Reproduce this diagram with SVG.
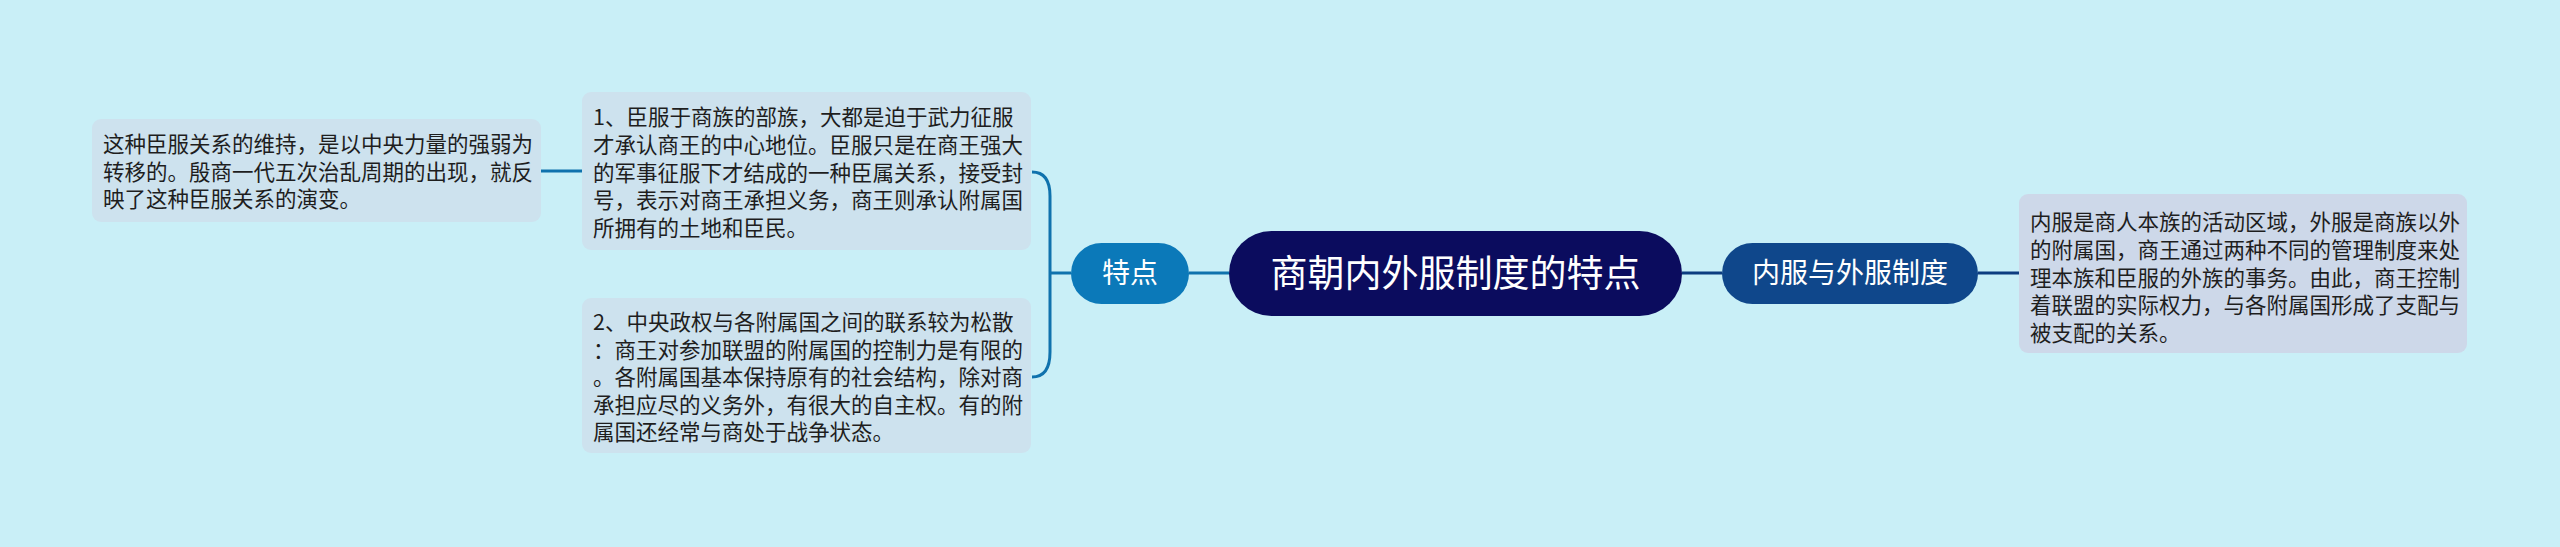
<svg xmlns="http://www.w3.org/2000/svg" width="2560" height="547" viewBox="0 0 2560 547">
<style>
.bg{fill:#c9eff7}
.box{fill:#cde2ee}
.boxr{fill:#cdd8e9}
.t{font-family:"Noto Sans CJK SC","Noto Sans",sans-serif;font-size:21.5px;fill:#1e1e1e}
.w{font-family:"Noto Sans CJK SC","Noto Sans",sans-serif;fill:#ffffff;text-anchor:middle}
.cl{stroke:#0f72ad;stroke-width:3;fill:none}
.cr{stroke:#0d3d80;stroke-width:3;fill:none}
</style>
<rect class="bg" x="0" y="0" width="2560" height="547"/>
<g id="connectors">
<path class="cl" d="M541,171 L582,171"/>
<path class="cl" d="M1032,172 Q1050,172 1050,196 L1050,352 Q1050,377 1032,377"/>
<path class="cl" d="M1050,273 L1071,273"/>
<path class="cl" d="M1189,273 L1229,273"/>
<path class="cr" d="M1682,273 L1722,273"/>
<path class="cr" d="M1978,273 L2019,273"/>
</g>
<g id="root">
<rect x="1229" y="231" width="453" height="85" rx="42.5" fill="#0b0c5e"/>
<text class="w" x="1455.5" y="286.5" font-size="37">商朝内外服制度的特点</text>
</g>
<g id="node-tedian">
<rect x="1071" y="243" width="118" height="61" rx="30.5" fill="#0b79b9"/>
<text class="w" x="1130" y="283" font-size="28">特点</text>
</g>
<g id="node-neifu">
<rect x="1722" y="243" width="256" height="61" rx="30.5" fill="#0f478b"/>
<text class="w" x="1850" y="283" font-size="28">内服与外服制度</text>
</g>
<g id="node-1">
<rect class="box" x="582" y="92" width="449" height="158" rx="9"/>
<text class="t" x="593" y="125">
<tspan x="593" y="125">1、臣服于商族的部族，大都是迫于武力征服</tspan>
<tspan x="593" y="152.75">才承认商王的中心地位。臣服只是在商王强大</tspan>
<tspan x="593" y="180.5">的军事征服下才结成的一种臣属关系，接受封</tspan>
<tspan x="593" y="208.25">号，表示对商王承担义务，商王则承认附属国</tspan>
<tspan x="593" y="236">所拥有的土地和臣民。</tspan>
</text>
</g>
<g id="node-2">
<rect class="box" x="582" y="298" width="449" height="155" rx="9"/>
<text class="t" x="593" y="330">
<tspan x="593" y="330">2、中央政权与各附属国之间的联系较为松散</tspan>
<tspan x="593" y="357.5">：商王对参加联盟的附属国的控制力是有限的</tspan>
<tspan x="593" y="385">。各附属国基本保持原有的社会结构，除对商</tspan>
<tspan x="593" y="412.5">承担应尽的义务外，有很大的自主权。有的附</tspan>
<tspan x="593" y="440">属国还经常与商处于战争状态。</tspan>
</text>
</g>
<g id="node-left">
<rect class="box" x="92" y="119" width="449" height="103" rx="9"/>
<text class="t" x="103" y="152">
<tspan x="103" y="152">这种臣服关系的维持，是以中央力量的强弱为</tspan>
<tspan x="103" y="179.5">转移的。殷商一代五次治乱周期的出现，就反</tspan>
<tspan x="103" y="207">映了这种臣服关系的演变。</tspan>
</text>
</g>
<g id="node-right">
<rect class="boxr" x="2019" y="194" width="448" height="159" rx="9"/>
<text class="t" x="2030" y="230">
<tspan x="2030" y="230">内服是商人本族的活动区域，外服是商族以外</tspan>
<tspan x="2030" y="257.75">的附属国，商王通过两种不同的管理制度来处</tspan>
<tspan x="2030" y="285.5">理本族和臣服的外族的事务。由此，商王控制</tspan>
<tspan x="2030" y="313.25">着联盟的实际权力，与各附属国形成了支配与</tspan>
<tspan x="2030" y="341">被支配的关系。</tspan>
</text>
</g>
</svg>
